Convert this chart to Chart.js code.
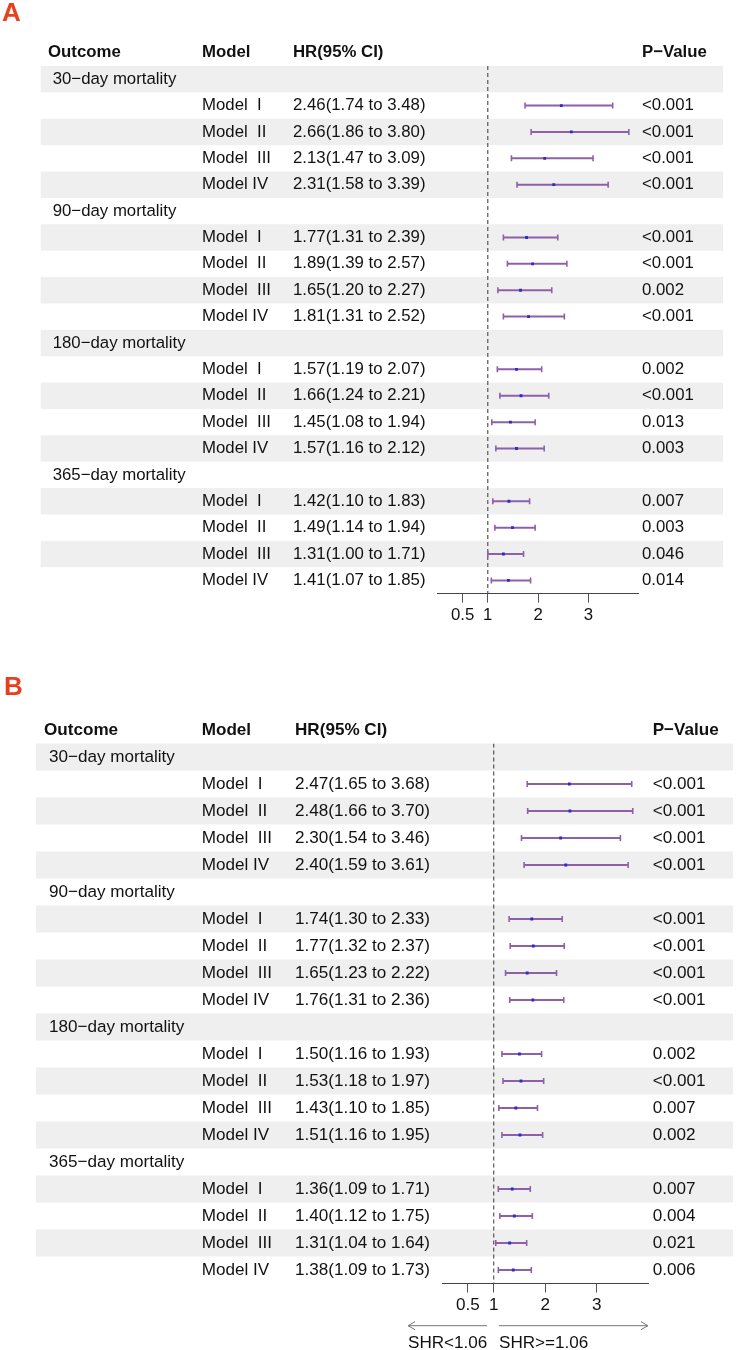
<!DOCTYPE html>
<html>
<head>
<meta charset="utf-8">
<script src="https://cdn.jsdelivr.net/npm/chart.js@4.4.1/dist/chart.umd.min.js"></script>
<style>
  body { margin: 0; background: #fff; }
  .panel { position: absolute; left: 0; width: 745px; }
</style>
</head>
<body>
<div class="panel" style="top:0;height:660px"><canvas id="panelA"></canvas></div>
<div class="panel" style="top:660px;height:690px"><canvas id="panelB"></canvas></div>
<script>
// data
var outcomes = ["30\u2212day mortality", "90\u2212day mortality", "180\u2212day mortality", "365\u2212day mortality"];
var models = ["Model  I", "Model  II", "Model  III", "Model IV"];
var headers = ["Outcome", "Model", "HR(95% CI)", "P\u2212Value"];
var tickVals = [0.5, 1, 2, 3];

// panel A
var hrA = [2.46, 2.66, 2.13, 2.31, 1.77, 1.89, 1.65, 1.81, 1.57, 1.66, 1.45, 1.57, 1.42, 1.49, 1.31, 1.41];
var loA = [1.74, 1.86, 1.47, 1.58, 1.31, 1.39, 1.20, 1.31, 1.19, 1.24, 1.08, 1.16, 1.10, 1.14, 1.00, 1.07];
var hiA = [3.48, 3.80, 3.09, 3.39, 2.39, 2.57, 2.27, 2.52, 2.07, 2.21, 1.94, 2.12, 1.83, 1.94, 1.71, 1.85];
var pA = ["<0.001", "<0.001", "<0.001", "<0.001", "<0.001", "<0.001", "0.002", "<0.001",
          "0.002", "<0.001", "0.013", "0.003", "0.007", "0.003", "0.046", "0.014"];

// panel B
var hrB = [2.47, 2.48, 2.30, 2.40, 1.74, 1.77, 1.65, 1.76, 1.50, 1.53, 1.43, 1.51, 1.36, 1.40, 1.31, 1.38];
var loB = [1.65, 1.66, 1.54, 1.59, 1.30, 1.32, 1.23, 1.31, 1.16, 1.18, 1.10, 1.16, 1.09, 1.12, 1.04, 1.09];
var hiB = [3.68, 3.70, 3.46, 3.61, 2.33, 2.37, 2.22, 2.36, 1.93, 1.97, 1.85, 1.95, 1.71, 1.75, 1.64, 1.73];
var pB = ["<0.001", "<0.001", "<0.001", "<0.001", "<0.001", "<0.001", "<0.001", "<0.001",
          "0.002", "<0.001", "0.007", "0.002", "0.007", "0.004", "0.021", "0.006"];

var FONT = "'Liberation Sans', Arial, Helvetica, sans-serif";
var ciColor = "#8f60aa";
var ptColor = "#2a2ad0";

// row of model m in group g (group title takes one row)
function rowOf(g, m) { return g * 5 + 1 + m; }

function makePanel(id, letter, hr, lo, hi, pv, geo) {
  var datasets = [];

  // reference line at HR = 1
  datasets.push({
    data: [{x: 1, y: -0.5}, {x: 1, y: 19.5}],
    showLine: true, borderColor: "#555", borderWidth: 1.2, borderDash: [4, 3],
    pointRadius: 0, order: 4
  });

  var caps = [], pts = [];
  for (var g = 0; g < outcomes.length; g++) {
    for (var m = 0; m < models.length; m++) {
      var k = g * 4 + m, r = rowOf(g, m);
      datasets.push({
        data: [{x: lo[k], y: r}, {x: hi[k], y: r}],
        showLine: true, borderColor: ciColor, borderWidth: 2, pointRadius: 0, order: 3
      });
      caps.push({x: lo[k], y: r}, {x: hi[k], y: r});
      pts.push({x: hr[k], y: r});
    }
  }
  // whisker ends
  datasets.push({
    data: caps, pointStyle: "line", rotation: 90, pointRadius: 3,
    borderColor: ciColor, borderWidth: 1.6, order: 2
  });
  // point estimates, on top
  datasets.push({
    data: pts, pointStyle: "rect", pointRadius: 2,
    backgroundColor: ptColor, borderColor: ptColor, borderWidth: 0, order: 1
  });

  var tablePlugin = {
    id: "table" + letter,
    beforeDatasetsDraw: function(chart) {
      var ctx = chart.ctx, ys = chart.scales.y;
      ctx.save();
      ctx.fillStyle = "#efefef";
      for (var i = 0; i < 20; i += 2) {
        var t = ys.getPixelForValue(i - 0.5), b = ys.getPixelForValue(i + 0.5);
        ctx.fillRect(geo.bandL, t, geo.bandR - geo.bandL, b - t);
      }
      ctx.restore();
    },
    afterDraw: function(chart) {
      var ctx = chart.ctx, ys = chart.scales.y;
      ctx.save();
      ctx.textBaseline = "middle";
      ctx.textAlign = "left";
      ctx.fillStyle = "#111";

      // header
      var hy = ys.getPixelForValue(-1);
      ctx.font = "bold " + geo.font + "px " + FONT;
      ctx.fillText(headers[0], geo.hdrX, hy);
      ctx.fillText(headers[1], geo.modelX, hy);
      ctx.fillText(headers[2], geo.hrX, hy);
      ctx.fillText(headers[3], geo.pX, hy);

      ctx.font = geo.font + "px " + FONT;
      for (var g = 0; g < outcomes.length; g++) {
        ctx.fillText(outcomes[g], geo.groupX, ys.getPixelForValue(g * 5));
        for (var m = 0; m < models.length; m++) {
          var k = g * 4 + m, y = ys.getPixelForValue(rowOf(g, m));
          ctx.fillText(models[m], geo.modelX, y);
          ctx.fillText(hr[k].toFixed(2) + "(" + lo[k].toFixed(2) + " to " + hi[k].toFixed(2) + ")", geo.hrX, y);
          ctx.fillText(pv[k], geo.pX, y);
        }
      }

      // panel letter
      ctx.textBaseline = "alphabetic";
      ctx.fillStyle = "#e8401f";
      ctx.font = "bold 26px " + FONT;
      ctx.fillText(letter, geo.letterX, geo.letterY);

      // direction arrows
      if (geo.arrows) {
        var a = geo.arrows;
        ctx.strokeStyle = "#777";
        ctx.lineWidth = 1;
        ctx.beginPath();
        ctx.moveTo(a.l1, a.y); ctx.lineTo(a.l0, a.y);
        ctx.moveTo(a.l0 + 7, a.y - 4); ctx.lineTo(a.l0, a.y); ctx.lineTo(a.l0 + 7, a.y + 4);
        ctx.moveTo(a.r0, a.y); ctx.lineTo(a.r1, a.y);
        ctx.moveTo(a.r1 - 7, a.y - 4); ctx.lineTo(a.r1, a.y); ctx.lineTo(a.r1 - 7, a.y + 4);
        ctx.stroke();
        ctx.fillStyle = "#111";
        ctx.textBaseline = "middle";
        ctx.font = geo.font + "px " + FONT;
        ctx.fillText(a.leftText, a.l0, a.ty);
        ctx.fillText(a.rightText, a.r0, a.ty);
      }
      ctx.restore();
    }
  };

  return new Chart(document.getElementById(id), {
    type: "scatter",
    data: { datasets: datasets },
    options: {
      responsive: true,
      maintainAspectRatio: false,
      animation: false,
      layout: {
        padding: { left: geo.left, right: 745 - geo.right, top: geo.top, bottom: geo.height - geo.bottom - 40 }
      },
      plugins: { legend: { display: false }, tooltip: { enabled: false } },
      scales: {
        x: {
          type: "linear", min: 0, max: 4,
          afterBuildTicks: function(scale) {
            scale.ticks = tickVals.map(function(v) { return { value: v }; });
          },
          afterFit: function(scale) { scale.height = 40; },
          grid: { display: true, drawOnChartArea: false, drawTicks: true, tickLength: 9, color: "#555", lineWidth: 1 },
          border: { display: true, color: "#444", width: 1 },
          ticks: {
            autoSkip: false, maxRotation: 0, padding: 3, color: "#111",
            font: { family: FONT, size: geo.font },
            callback: function(v) { return String(v); }
          }
        },
        y: { type: "linear", min: -0.5, max: 19.5, reverse: true, display: false }
      }
    },
    plugins: [tablePlugin]
  });
}

makePanel("panelA", "A", hrA, loA, hiA, pA, {
  height: 660, left: 437.4, right: 638.9, top: 66, bottom: 593.6,
  bandL: 40.7, bandR: 723, hdrX: 48, groupX: 52.7, modelX: 202, hrX: 293, pX: 642,
  font: 16.8, letterX: 2, letterY: 21
});

makePanel("panelB", "B", hrB, loB, hiB, pB, {
  height: 690, left: 442.2, right: 648.2, top: 83.5, bottom: 623.5,
  bandL: 36, bandR: 733, hdrX: 44, groupX: 49, modelX: 201.7, hrX: 295, pX: 652.7,
  font: 17.1, letterX: 4, letterY: 35,
  arrows: { y: 665.7, l0: 408, l1: 487, r0: 499, r1: 648, ty: 683,
            leftText: "SHR<1.06", rightText: "SHR>=1.06" }
});
</script>
</body>
</html>
